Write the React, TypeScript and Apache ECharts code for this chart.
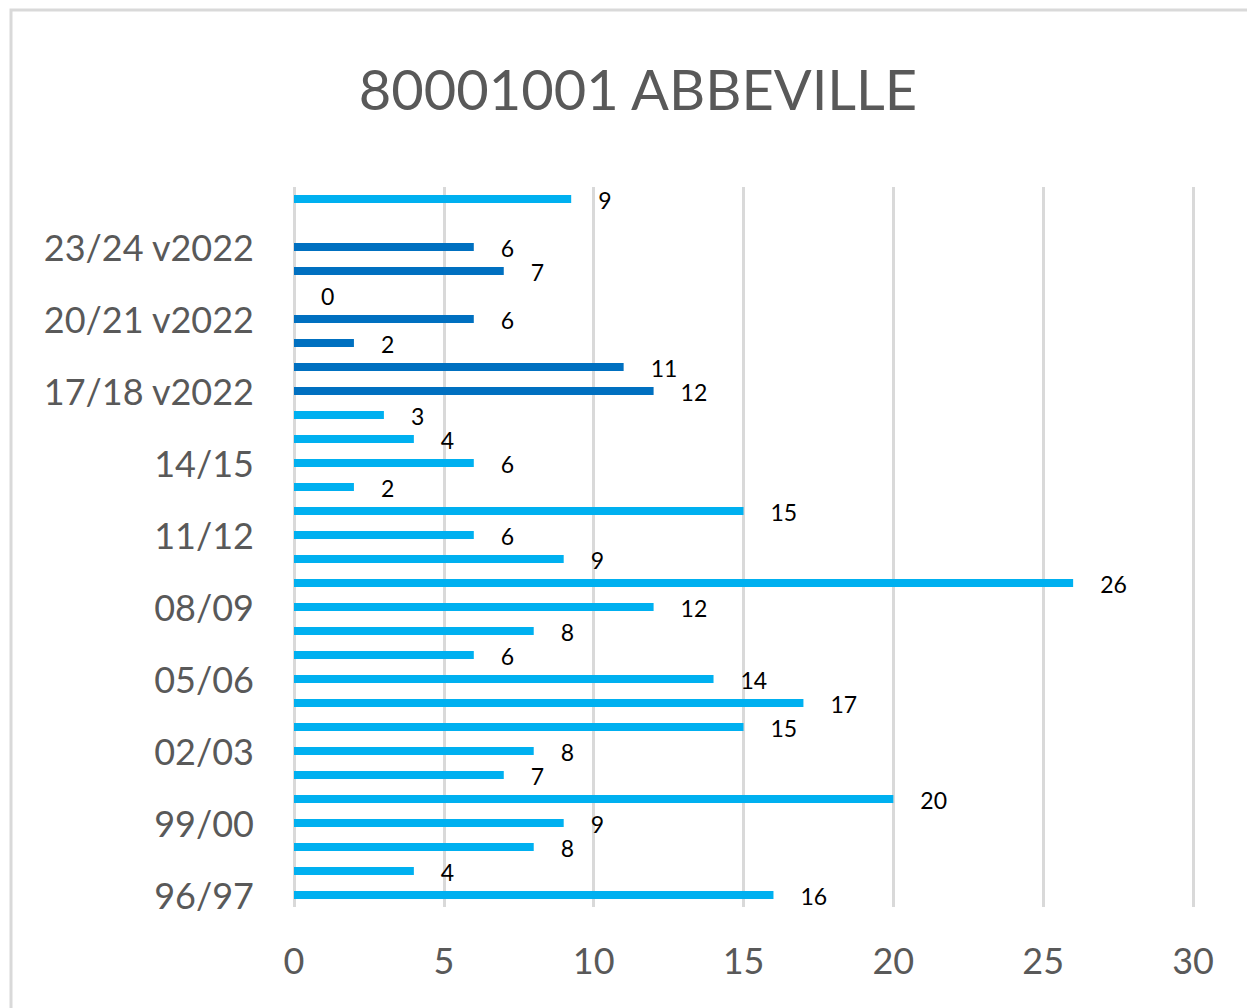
import React, { useEffect, useRef } from "react";
import * as echarts from "echarts";

const TITLE = "80001001 ABBEVILLE";

const categories = [
  "96/97", "97/98", "98/99", "99/00", "00/01", "01/02", "02/03", "03/04",
  "04/05", "05/06", "06/07", "07/08", "08/09", "09/10", "10/11", "11/12",
  "12/13", "13/14", "14/15", "15/16", "16/17",
  "17/18 v2022", "18/19 v2022", "19/20 v2022", "20/21 v2022", "21/22 v2022",
  "22/23 v2022", "23/24 v2022", "24/25 v2022", "Moyenne",
];

const values: (number | null)[] = [
  16, 4, 8, 9, 20, 7, 8, 15, 17, 14, 6, 8, 12, 26, 9, 6, 15, 2, 6, 4, 3,
  12, 11, 2, 6, 0, 7, 6, null, 9.25,
];

// which bars belong to the "v2022" series (darker blue)
const isV2022 = categories.map((c) => c.indexOf("v2022") >= 0);

const xTicks = { min: 0, max: 30, interval: 5 };

const LIGHT = "#00B0F0";
const DARK = "#0070C0";
const FONT = "Lato";

export default function App() {
  const ref = useRef<HTMLDivElement>(null);

  useEffect(() => {
    document.body.style.margin = "0";
    if (!ref.current) return;
    const chart = echarts.init(ref.current, undefined, { renderer: "svg" });
    chart.setOption({
      animation: false,
      backgroundColor: "#ffffff",
      graphic: [
        {
          type: "rect",
          shape: { x: 11, y: 10, width: 1300, height: 1100 },
          style: { fill: "none", stroke: "#D9D9D9", lineWidth: 3 },
          silent: true,
          z: -1,
        },
        {
          type: "text",
          x: 638,
          y: 88,
          style: {
            text: TITLE,
            textAlign: "center",
            textVerticalAlign: "middle",
            fontFamily: FONT,
            fontSize: 56,
            fill: "#595959",
          },
          silent: true,
        },
      ],
      grid: { left: 294, right: 54, top: 187, bottom: 101, containLabel: false },
      xAxis: {
        type: "value",
        min: xTicks.min,
        max: xTicks.max,
        interval: xTicks.interval,
        axisLine: { show: false },
        axisTick: { show: false },
        splitLine: { show: true, lineStyle: { color: "#D9D9D9", width: 3 } },
        axisLabel: {
          color: "#595959",
          fontFamily: FONT,
          fontSize: 36,
          margin: 35,
        },
      },
      yAxis: {
        type: "category",
        data: categories,
        axisLine: { show: false },
        axisTick: { show: false },
        splitLine: { show: false },
        axisLabel: {
          interval: 2,
          color: "#595959",
          fontFamily: FONT,
          fontSize: 36,
          margin: 40,
        },
      },
      series: [
        {
          type: "bar",
          barWidth: 8,
          data: values.map((v, i) => ({
            value: v,
            itemStyle: { color: isV2022[i] ? DARK : LIGHT },
          })),
          label: {
            show: true,
            position: "right",
            distance: 27,
            offset: [0, 1],
            color: "#000000",
            fontFamily: FONT,
            fontSize: 23,
            formatter: (p: any) =>
              p.value === null || p.value === undefined || p.value === "-"
                ? ""
                : String(Math.round(p.value)),
          },
        },
      ],
    });
    return () => chart.dispose();
  }, []);

  return <div ref={ref} style={{ width: 1247, height: 1008 }} />;
}
